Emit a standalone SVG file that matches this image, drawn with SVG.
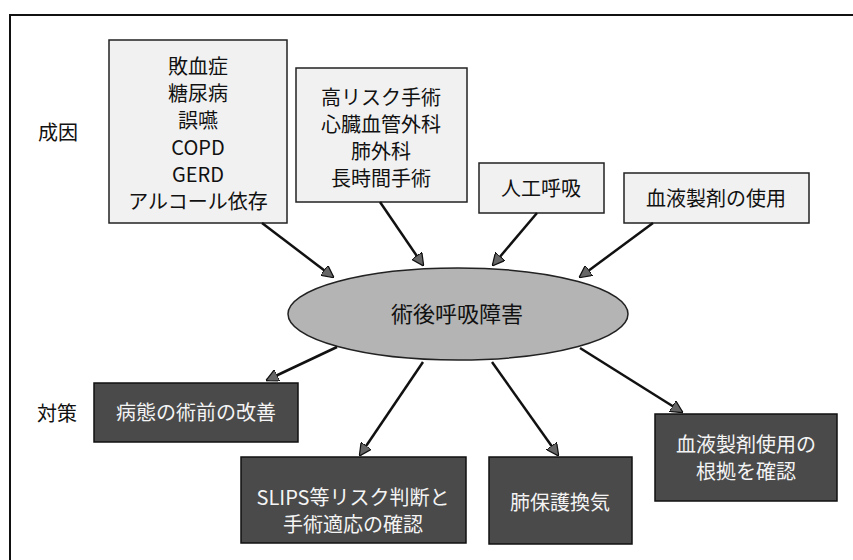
<svg xmlns="http://www.w3.org/2000/svg" width="853" height="560" viewBox="0 0 853 560">
<style>
text{font-family:"Noto Sans CJK JP","Noto Sans",sans-serif;text-anchor:middle;}
.lbl{font-size:20px;fill:#111;}
.cause rect{fill:#f1f1f1;stroke:#222;stroke-width:1.5;}
.cause text{font-size:20px;fill:#111;}
.meas rect{fill:#4a4a4a;stroke:#111;stroke-width:1.5;}
.meas text{font-size:20px;fill:#f4f4f4;}
.conn line{stroke:#111;stroke-width:2.5;marker-end:url(#ah);}
</style>
<defs>
<marker id="ah" viewBox="0 0 10 10" refX="9" refY="5" markerWidth="5" markerHeight="5" orient="auto" markerUnits="strokeWidth">
<path d="M0,0 L10,5 L0,10 z" fill="#666" stroke="#111" stroke-width="1"/>
</marker>
</defs>
<rect x="0" y="0" width="853" height="560" fill="#fff"/>
<path d="M10,560 L10,15 L853,15" fill="none" stroke="#111" stroke-width="2"/>
<text class="lbl" x="58" y="140">成因</text>
<text class="lbl" x="57" y="421">対策</text>

<g id="cause1" class="cause">
<rect x="109" y="40" width="178" height="183"/>
<text x="198" y="74">敗血症</text>
<text x="198" y="101">糖尿病</text>
<text x="198" y="128">誤嚥</text>
<text x="198" y="155">COPD</text>
<text x="198" y="182">GERD</text>
<text x="198" y="209">アルコール依存</text>
</g>
<g id="cause2" class="cause">
<rect x="296" y="68" width="171" height="134"/>
<text x="381" y="105">高リスク手術</text>
<text x="381" y="132">心臓血管外科</text>
<text x="381" y="159">肺外科</text>
<text x="381" y="186">長時間手術</text>
</g>
<g id="cause3" class="cause">
<rect x="479" y="163" width="125" height="50"/>
<text x="541" y="196">人工呼吸</text>
</g>
<g id="cause4" class="cause">
<rect x="624" y="173" width="185" height="50"/>
<text x="716" y="206">血液製剤の使用</text>
</g>

<g id="center">
<ellipse cx="458" cy="314" rx="170" ry="46" fill="#b4b4b4" stroke="#222" stroke-width="1.5"/>
<text x="457" y="322" style="font-size:22px;fill:#111">術後呼吸障害</text>
</g>

<g id="meas1" class="meas">
<rect x="94" y="383" width="204" height="59"/>
<text x="196" y="420">病態の術前の改善</text>
</g>
<g id="meas2" class="meas">
<rect x="241" y="457" width="225" height="86"/>
<text x="353" y="505">SLIPS等リスク判断と</text>
<text x="353" y="532">手術適応の確認</text>
</g>
<g id="meas3" class="meas">
<rect x="489" y="457" width="143" height="87"/>
<text x="560" y="510">肺保護換気</text>
</g>
<g id="meas4" class="meas">
<rect x="655" y="414" width="182" height="87"/>
<text x="746" y="452">血液製剤使用の</text>
<text x="746" y="479">根拠を確認</text>
</g>

<g id="connectors" class="conn">
<line x1="262" y1="223" x2="333" y2="277"/>
<line x1="380" y1="202" x2="423" y2="265"/>
<line x1="537" y1="213" x2="493" y2="265"/>
<line x1="653" y1="223" x2="580" y2="277"/>
<line x1="337" y1="347" x2="267" y2="380"/>
<line x1="423" y1="362" x2="360" y2="455"/>
<line x1="492" y1="362" x2="558" y2="455"/>
<line x1="580" y1="348" x2="682" y2="412"/>
</g>
</svg>
